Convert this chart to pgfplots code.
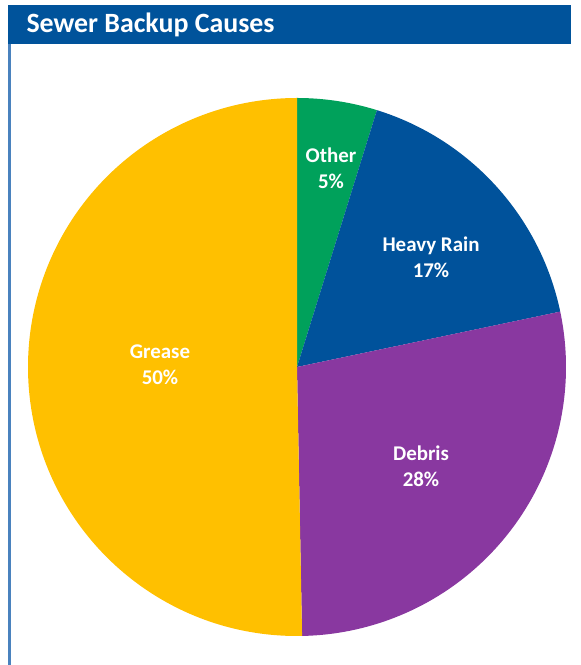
\documentclass[border=0pt]{standalone}
\usepackage{pgfplots}
\pgfplotsset{compat=1.18}
\usepackage{fontspec}
\setmainfont{Carlito}
\definecolor{titleblue}{RGB}{0,83,155}
\definecolor{borderblue}{RGB}{74,130,190}
\definecolor{otherc}{RGB}{0,161,91}
\definecolor{rainc}{RGB}{0,82,155}
\definecolor{debrisc}{RGB}{137,56,160}
\definecolor{greasec}{RGB}{255,192,0}
\begin{document}
\begin{tikzpicture}
% slice values (percent), clockwise from 12 o'clock
\def\vOther{4.8}
\def\vRain{16.9}
\def\vDebris{28.0}
\def\vGrease{50.3}
\pgfmathsetmacro{\aA}{90}
\pgfmathsetmacro{\aB}{\aA-3.6*\vOther}
\pgfmathsetmacro{\aC}{\aB-3.6*\vRain}
\pgfmathsetmacro{\aD}{\aC-3.6*\vDebris}
\pgfmathsetmacro{\aE}{\aD-3.6*\vGrease}
\def\cx{297}\def\cy{298}\def\R{269}
\begin{axis}[x=1bp, y=1bp, xmin=0, xmax=571, ymin=0, ymax=665,
  hide axis, clip=false, anchor=origin, at={(0,0)}]
\fill[white] (axis cs:0,0) rectangle (axis cs:571,665);
\fill[titleblue] (axis cs:8,621) rectangle (axis cs:571,660);
\fill[borderblue] (axis cs:8,0) rectangle (axis cs:10.5,621);
\node[anchor=west, text=white, font=\fontsize{28}{32}\selectfont\bfseries] at (axis cs:23,640) {Sewer Backup Causes};
\fill[otherc] (axis cs:\cx,\cy) -- ++(\aA:\R bp) arc[start angle=\aA, end angle=\aB, radius=\R bp] -- cycle;
\fill[rainc] (axis cs:\cx,\cy) -- ++(\aB:\R bp) arc[start angle=\aB, end angle=\aC, radius=\R bp] -- cycle;
\fill[debrisc] (axis cs:\cx,\cy) -- ++(\aC:\R bp) arc[start angle=\aC, end angle=\aD, radius=\R bp] -- cycle;
\fill[greasec] (axis cs:\cx,\cy) -- ++(\aD:\R bp) arc[start angle=\aD, end angle=\aE, radius=\R bp] -- cycle;
\tikzset{lbl/.style={text=white, align=center, font=\fontsize{21}{26}\selectfont\bfseries}}
\node[lbl] at (axis cs:331,497) {Other\\5\%};
\node[lbl] at (axis cs:431,408) {Heavy Rain\\17\%};
\node[lbl] at (axis cs:421,199) {Debris\\28\%};
\node[lbl] at (axis cs:160,300) {Grease\\50\%};
\end{axis}
\end{tikzpicture}
\end{document}
